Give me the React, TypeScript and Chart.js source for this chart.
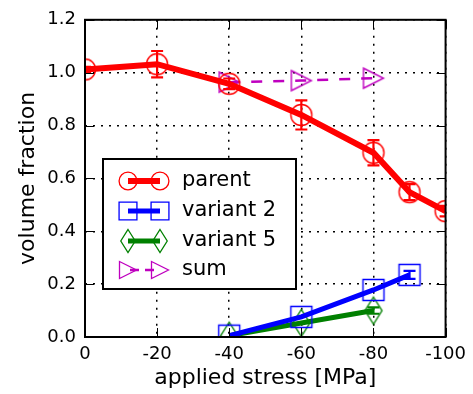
import React, { useEffect, useRef } from 'react';
import { Chart, registerables } from 'chart.js';

Chart.register(...registerables);

// ---- data ----
const xTickValues = [0, -20, -40, -60, -80, -100];
const yTickValues = [0, 0.2, 0.4, 0.6, 0.8, 1.0, 1.2];

const parentX = [0, -20, -40, -60, -80, -90, -100];
const parentY = [1.012, 1.032, 0.958, 0.84, 0.697, 0.548, 0.476];
const parentErr = [0.01, 0.05, 0.02, 0.055, 0.048, 0.03, 0.02];

const variant2X = [-40, -60, -80, -90];
const variant2Y = [0.005, 0.076, 0.178, 0.235];
const variant2Err = [0, 0, 0, 0.015];

const variant5X = [-40, -60, -80];
const variant5Y = [0.005, 0.053, 0.1];
const variant5Err = [0, 0, 0.012];

const sumX = [-40, -60, -80];
const sumY = [0.964, 0.97, 0.979];

const seriesLabels = ['parent', 'variant 2', 'variant 5', 'sum'];
const xTitle = 'applied stress [MPa]';
const yTitle = 'volume fraction';

const RED = '#ff0000';
const BLUE = '#0000ff';
const GREEN = '#008000';
const MAGENTA = '#bf00bf';
const FONT = "'DejaVu Sans', sans-serif";

type Kind = 'circle' | 'square' | 'diamond' | 'triangle';

function markerPath(ctx: CanvasRenderingContext2D, kind: Kind, x: number, y: number, s: number) {
  ctx.beginPath();
  if (kind === 'circle') {
    ctx.arc(x, y, 10.5 * s, 0, Math.PI * 2);
  } else if (kind === 'square') {
    ctx.rect(x - 10.5 * s, y - 10.5 * s, 21 * s, 21 * s);
  } else if (kind === 'diamond') {
    ctx.moveTo(x, y - 13.5 * s);
    ctx.lineTo(x + 8.5 * s, y);
    ctx.lineTo(x, y + 13.5 * s);
    ctx.lineTo(x - 8.5 * s, y);
    ctx.closePath();
  } else {
    ctx.moveTo(x - 10 * s, y - 10 * s);
    ctx.lineTo(x + 10 * s, y);
    ctx.lineTo(x - 10 * s, y + 10 * s);
    ctx.closePath();
  }
}

function makeMarker(kind: Kind, color: string) {
  const c = document.createElement('canvas');
  c.width = 32;
  c.height = 32;
  const ctx = c.getContext('2d')!;
  ctx.strokeStyle = color;
  ctx.lineWidth = 1.4;
  markerPath(ctx, kind, 16, 16, 1);
  ctx.stroke();
  return c;
}

const pts = (xs: number[], ys: number[]) => xs.map((x, i) => ({ x, y: ys[i] }));

export default function App() {
  const ref = useRef<HTMLCanvasElement>(null);

  useEffect(() => {
    const canvas = ref.current!;
    const kinds: Kind[] = ['circle', 'square', 'diamond', 'triangle'];
    const colors = [RED, BLUE, GREEN, MAGENTA];
    const widths = [6, 5, 5, 2.5];
    const images = kinds.map((k, i) => makeMarker(k, colors[i]));
    const errs = [parentErr, variant2Err, variant5Err, null];

    const extras = {
      id: 'extras',
      afterDatasetsDraw(chart: any) {
        const ctx: CanvasRenderingContext2D = chart.ctx;
        const { left, right, top, bottom } = chart.chartArea;
        const xs = chart.scales.x;
        const ys = chart.scales.y;

        // error bars
        ctx.save();
        ctx.beginPath();
        ctx.rect(left, top, right - left, bottom - top);
        ctx.clip();
        chart.data.datasets.forEach((ds: any, di: number) => {
          const e = errs[di];
          if (!e) return;
          ds.data.forEach((p: any, i: number) => {
            if (!e[i]) return;
            const px = xs.getPixelForValue(p.x);
            const y1 = ys.getPixelForValue(p.y + e[i]);
            const y2 = ys.getPixelForValue(p.y - e[i]);
            ctx.strokeStyle = colors[di];
            ctx.lineWidth = 2.2;
            ctx.beginPath();
            ctx.moveTo(px, y1);
            ctx.lineTo(px, y2);
            ctx.moveTo(px - 6, y1);
            ctx.lineTo(px + 6, y1);
            ctx.moveTo(px - 6, y2);
            ctx.lineTo(px + 6, y2);
            ctx.stroke();
          });
        });
        ctx.restore();

        // inward ticks
        ctx.save();
        ctx.strokeStyle = '#000';
        ctx.lineWidth = 1;
        ctx.beginPath();
        yTickValues.forEach((v) => {
          const py = Math.round(ys.getPixelForValue(v)) + 0.5;
          ctx.moveTo(left, py);
          ctx.lineTo(left + 9, py);
          ctx.moveTo(right, py);
          ctx.lineTo(right - 9, py);
        });
        xTickValues.forEach((v) => {
          const px = Math.round(xs.getPixelForValue(v)) + 0.5;
          ctx.moveTo(px, bottom);
          ctx.lineTo(px, bottom - 9);
          ctx.moveTo(px, top);
          ctx.lineTo(px, top + 9);
        });
        ctx.stroke();

        // frame
        ctx.lineWidth = 2;
        ctx.strokeRect(left, top, right - left, bottom - top);

        // legend
        const lx = 103, ly = 159, lw = 193, lh = 130;
        ctx.fillStyle = '#fff';
        ctx.fillRect(lx, ly, lw, lh);
        ctx.strokeStyle = '#000';
        ctx.lineWidth = 2;
        ctx.strokeRect(lx, ly, lw, lh);
        const rows = [181, 211, 241, 270];
        const mx1 = 128, mx2 = 160;
        seriesLabels.forEach((lab, i) => {
          const y = rows[i];
          ctx.save();
          ctx.strokeStyle = colors[i];
          ctx.lineWidth = widths[i];
          if (i === 3) {
            ctx.setLineDash([9, 6]);
            ctx.lineDashOffset = -2;
          }
          ctx.beginPath();
          ctx.moveTo(mx1, y);
          ctx.lineTo(mx2, y);
          ctx.stroke();
          ctx.restore();
          ctx.save();
          ctx.strokeStyle = colors[i];
          ctx.lineWidth = 1.3;
          [mx1, mx2].forEach((mx) => {
            markerPath(ctx, kinds[i], mx, y, 0.85);
            ctx.stroke();
          });
          ctx.restore();
          ctx.fillStyle = '#000';
          ctx.font = `21px ${FONT}`;
          ctx.textAlign = 'left';
          ctx.textBaseline = 'middle';
          ctx.fillText(lab, 182, y);
        });
        ctx.restore();
      },
    };

    const mk = (i: number, xs: number[], ys: number[], extra: any = {}) => ({
      label: seriesLabels[i],
      data: pts(xs, ys),
      borderColor: colors[i],
      backgroundColor: 'transparent',
      borderWidth: widths[i],
      pointStyle: images[i] as any,
      pointRadius: 11,
      clip: 0,
      tension: 0,
      ...extra,
    });

    const chart = new Chart(canvas, {
      type: 'line',
      data: {
        datasets: [
          mk(0, parentX, parentY),
          mk(1, variant2X, variant2Y),
          mk(2, variant5X, variant5Y),
          mk(3, sumX, sumY, { borderDash: [11, 11] }),
        ] as any,
      },
      options: {
        animation: false,
        responsive: false,
        devicePixelRatio: 1,
        events: [],
        layout: { padding: { left: 0, top: 17, right: 26, bottom: 0 } },
        plugins: {
          legend: { display: false },
          tooltip: { enabled: false },
        },
        scales: {
          x: {
            type: 'linear',
            reverse: true,
            min: -100,
            max: 0,
            afterBuildTicks: (s: any) => {
              s.ticks = xTickValues.map((v) => ({ value: v }));
            },
            afterFit: (s: any) => {
              s.height = 57;
            },
            ticks: {
              autoSkip: false,
              maxRotation: 0,
              padding: 7,
              color: '#000',
              font: { family: FONT, size: 18 },
              callback: (v: any) => `${v}`,
            },
            grid: { color: '#000', lineWidth: 1.5, drawTicks: false },
            border: { display: false, dash: [2, 6] },
            title: {
              display: true,
              text: xTitle,
              color: '#000',
              font: { family: FONT, size: 22 },
              padding: { top: 0, bottom: 3 },
            },
          },
          y: {
            type: 'linear',
            min: 0,
            max: 1.2,
            afterBuildTicks: (s: any) => {
              s.ticks = yTickValues.map((v) => ({ value: v }));
            },
            afterFit: (s: any) => {
              s.width = 85;
            },
            ticks: {
              autoSkip: false,
              padding: 9,
              color: '#000',
              font: { family: FONT, size: 18 },
              callback: (v: any) => Number(v).toFixed(1),
            },
            grid: { color: '#000', lineWidth: 1.5, drawTicks: false },
            border: { display: false, dash: [2, 6] },
            title: {
              display: true,
              text: yTitle,
              color: '#000',
              font: { family: FONT, size: 22 },
              padding: { top: 15, bottom: 0 },
            },
          },
        },
      } as any,
      plugins: [extras],
    });
    return () => chart.destroy();
  }, []);

  return (
    <div style={{ position: 'fixed', left: 0, top: 0, width: 473, height: 394, background: '#fff' }}>
      <canvas ref={ref} width={473} height={394} style={{ display: 'block', width: 473, height: 394 }} />
    </div>
  );
}
